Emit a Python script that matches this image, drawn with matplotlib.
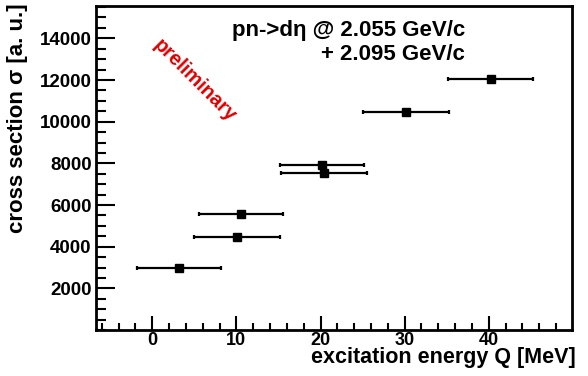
import numpy as np
import matplotlib.pyplot as plt
from matplotlib.ticker import MultipleLocator

# excitation energy Q [MeV] and cross section [a.u.]
q_values = [3.2, 10.1, 10.6, 20.2, 20.4, 30.2, 40.2]
q_errors = [5.0, 5.1, 5.0, 5.0, 5.1, 5.1, 5.1]
sigma_values = [3000, 4470, 5590, 7910, 7530, 10470, 12060]

plt.rcParams['font.family'] = ['Liberation Sans', 'DejaVu Sans']
plt.rcParams['font.weight'] = 'bold'

fig = plt.figure(figsize=(5.88, 3.76), dpi=100)
ax = fig.add_axes([0.163, 0.122, 0.81, 0.862])

ax.errorbar(q_values, sigma_values, xerr=q_errors, fmt='s', color='black',
            markersize=5.5, elinewidth=1.6, capsize=1.5, capthick=1.6)

ax.set_xlim(-6.7, 49.9)
ax.set_ylim(0, 15550)

ax.xaxis.set_major_locator(MultipleLocator(10))
ax.xaxis.set_minor_locator(MultipleLocator(2))
ax.yaxis.set_major_locator(MultipleLocator(2000))
ax.yaxis.set_minor_locator(MultipleLocator(500))
ax.set_yticks([2000, 4000, 6000, 8000, 10000, 12000, 14000])

ax.tick_params(which='both', direction='in', top=False, right=False, width=1.5)
ax.tick_params(axis='y', which='major', length=14, pad=3, labelsize=13.5)
ax.tick_params(axis='y', which='minor', length=7)
ax.tick_params(axis='x', which='major', length=10, pad=1.5, labelsize=13)
ax.tick_params(axis='x', which='minor', length=5)
for lbl in ax.get_xticklabels() + ax.get_yticklabels():
    lbl.set_fontweight('bold')
for s in ax.spines.values():
    s.set_linewidth(2)

fig.text(576 / 588, 1 - 363 / 376, 'excitation energy Q [MeV]', fontsize=15.5,
         fontweight='bold', ha='right', va='baseline')
fig.text(18 / 588, 1 - 3 / 376, 'cross section σ [a. u.]', fontsize=16,
         fontweight='bold', rotation=90, ha='center', va='top')

fig.text(465 / 588, 1 - 36 / 376, 'pn->dη @ 2.055 GeV/c', fontsize=16,
         fontweight='bold', ha='right', va='baseline')
fig.text(465 / 588, 1 - 60 / 376, '+ 2.095 GeV/c', fontsize=16,
         fontweight='bold', ha='right', va='baseline')
fig.text(195 / 588, 1 - 81 / 376, 'preliminary', rotation=-45, fontsize=14.5,
         fontweight='bold', color='#dd0000', ha='center', va='center')

fig.savefig('out.png', dpi=100)
